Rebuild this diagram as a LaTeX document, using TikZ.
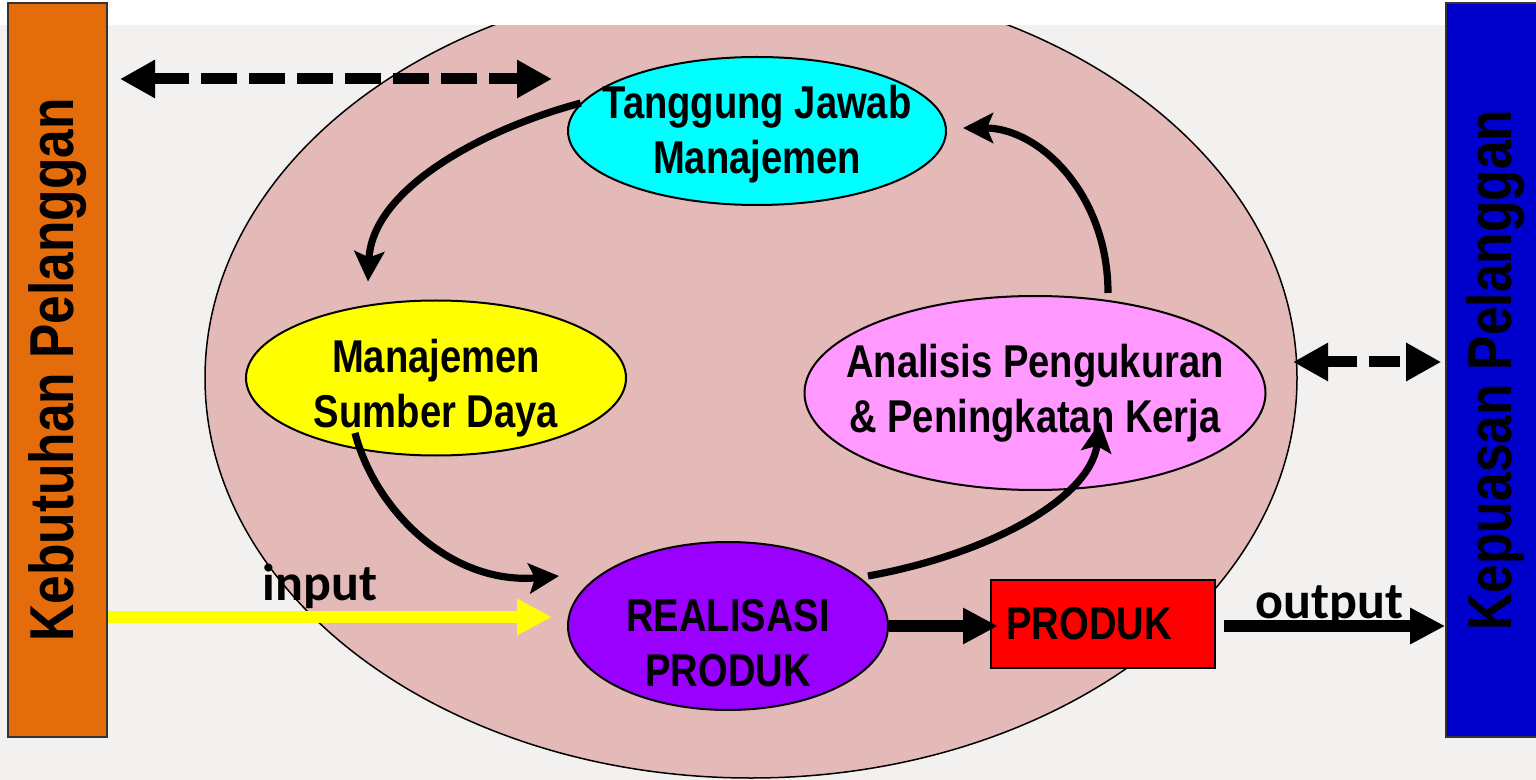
\documentclass[tikz,border=0pt]{standalone}
\usepackage{fontspec}
\setmainfont{Liberation Sans}[FakeStretch=0.83]
\newfontfamily\calibri{Carlito}
\usepackage{graphicx}
\usetikzlibrary{positioning,calc,shapes.geometric,arrows.meta}
\definecolor{kborange}{HTML}{E46C0A}
\definecolor{kpblue}{HTML}{0000CC}
\definecolor{bgpink}{HTML}{E4BAB8}
\definecolor{bggray}{HTML}{F2F1F0}
\definecolor{tjcyan}{HTML}{00FFFF}
\definecolor{msyellow}{HTML}{FFFF00}
\definecolor{apink}{HTML}{FF99FF}
\definecolor{rpurple}{HTML}{9900FF}
\tikzset{
  blob/.style={ellipse, draw, line width=1pt, inner sep=0pt},
  lbl/.style={align=center, font=\fontsize{23}{27.5}\selectfont\bfseries},
  bar/.style={draw=black!80, line width=0.8pt, minimum width=49.5pt,
    minimum height=367pt, inner sep=0pt, font=\fontsize{31}{31}\selectfont\bfseries},
  flow/.style={line width=3.6pt, -{Stealth[length=15pt,width=15pt,inset=3pt]}},
  fat/.style={line width=6pt, -{Triangle[length=17.5pt,width=17pt]}},
  dashtip/.style={line width=5.5pt, {Triangle[length=17.5pt,width=18pt]}-{Triangle[length=17.5pt,width=18pt]},
    dash pattern=on 18pt off 6pt},
  io/.style={font=\calibri\bfseries\fontsize{26}{26}\selectfont, anchor=base}
}
\begin{document}
\begin{tikzpicture}[x=0.5pt,y=-0.5pt]
  \useasboundingbox (0,0) rectangle (1536,780);
  \fill[bggray] (0,25) rectangle (1536,780);
  \node[name=bg, ellipse, draw, line width=0.75pt, fill=bgpink, minimum width=546pt, minimum height=400pt] at (751,378) {};
  \fill[white] (0,-40) rectangle (1536,25);
  % side bars
  \node[name=kb, bar, fill=kborange] at (57.5,370) {\rotatebox{90}{Kebutuhan Pelanggan}};
  \node[name=kp, bar, fill=kpblue, minimum width=50pt] at (1496,370) {\rotatebox{90}{Kepuasan Pelanggan}};
  % cycle
  \node[name=tj, blob, fill=tjcyan, minimum width=189pt, minimum height=74pt,
    label={[lbl,yshift=-1.5pt]center:Tanggung Jawab\\Manajemen}] at (757,131) {};
  \node[name=ms, blob, fill=msyellow, minimum width=190pt, minimum height=77.5pt,
    label={[lbl,yshift=-5pt]center:Manajemen\\Sumber Daya}] at (436,378) {};
  \node[name=ap, blob, fill=apink, minimum width=230.5pt, minimum height=97pt,
    label={[lbl]center:Analisis Pengukuran\\\& Peningkatan Kerja}] at (1035,393) {};
  \node[name=rp, blob, fill=rpurple, minimum width=160pt, minimum height=84pt,
    label={[lbl,yshift=-8.5pt]center:REALISASI\\PRODUK}] at (728,626) {};
  \node[name=pr, draw, line width=1pt, fill=red, minimum width=112pt, minimum height=44pt,
    font=\fontsize{23}{27.5}\selectfont\bfseries] at (1103,624) {PRODUK\hspace*{14pt}};
  \draw[flow] (tj.171) .. controls (480,130) and (372,190) .. ($(ms.north)+(-68,-18)$);
  \draw[flow] ($(ms.center)+(-81,55)$) .. controls (375,510) and (450,585) .. ($(rp.west)+(-8,-50)$);
  \draw[flow] ($(rp.center)+(140,-50)$) .. controls (985,555) and (1090,500) .. ($(ap.center)+(65,29)$);
  \draw[flow] ($(ap.north)+(73,-2)$) .. controls (1108,195) and (1040,128) .. ($(tj.east)+(16,-3)$);
  % in and out
  \coordinate (inend) at ([xshift=-7.5pt,yshift=4.5pt]rp.west);
  \draw[fat, msyellow] (kb.east |- inend) -- (inend) node[io, black, pos=0.478, yshift=8.5pt] {input};
  \draw[fat] (rp.east) -- ([xshift=4pt]pr.west |- rp.east);
  \draw[fat] ([xshift=4pt]pr.east |- rp.east) -- (kp.west |- rp.east) node[io, pos=0.478, yshift=4pt] {output};
  % customer links
  \coordinate (dl) at (120,79);
  \coordinate (dr) at (552,79);
  \draw[dashtip] (dl) -- (dr);
  \coordinate (dq) at (1293,362);
  \draw[dashtip, dash pattern=on 15.5pt off 6pt] (dq) -- ([xshift=-2pt]kp.west |- dq);
\end{tikzpicture}
\end{document}
